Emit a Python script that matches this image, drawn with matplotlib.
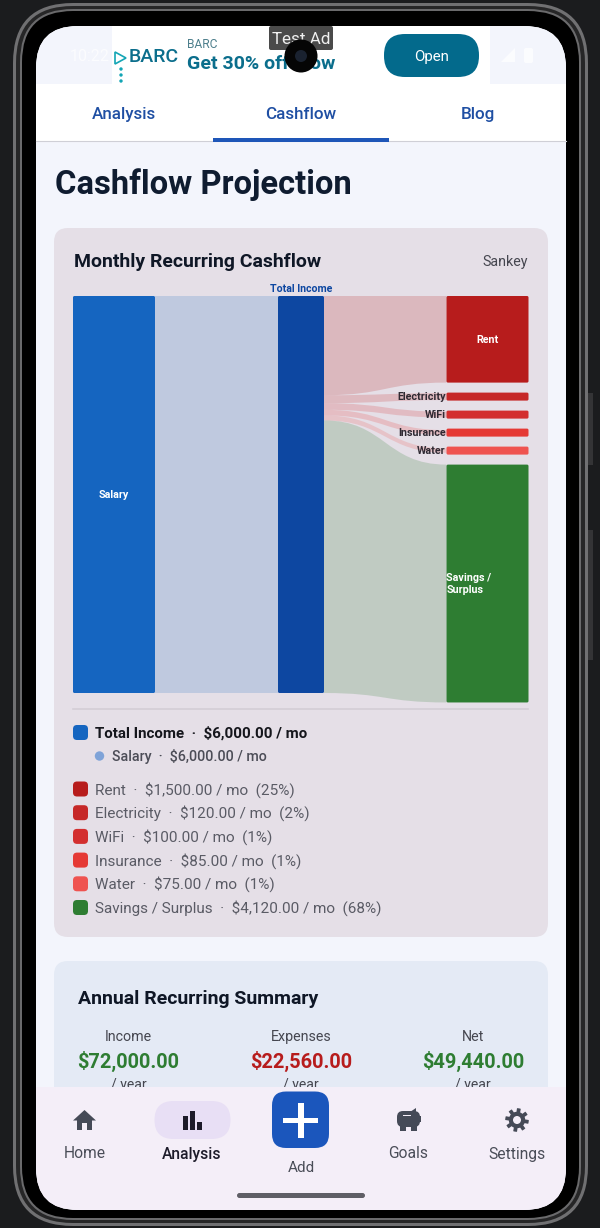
import numpy as np
import matplotlib
matplotlib.use("Agg")
import matplotlib.pyplot as plt
from matplotlib.patches import FancyBboxPatch, PathPatch, Circle, Polygon, Rectangle
from matplotlib.path import Path

plt.rcParams['font.family'] = ['Roboto', 'DejaVu Sans']

# chart values
source_name = "Salary"
total_name = "Total Income"
total_income = 6000.0
target_names = ["Rent", "Electricity", "WiFi", "Insurance", "Water", "Savings / Surplus"]
target_values = [1500.0, 120.0, 100.0, 85.0, 75.0, 4120.0]
target_pcts = [25, 2, 1, 1, 1, 68]
target_colors = ["#B71C1C", "#C62828", "#D32F2F", "#E53935", "#EF5350", "#2E7D32"]
source_color = "#1565C0"
total_color = "#0D47A1"

summary_labels = ["Income", "Expenses", "Net"]
summary_values = [72000.0, 22560.0, 49440.0]
summary_colors = ["#2E7D32", "#B71C1C", "#2E7D32"]

tab_names = ["Analysis", "Cashflow", "Blog"]
nav_names = ["Home", "Analysis", "Goals", "Settings"]

fig = plt.figure(figsize=(6, 12.28), dpi=100, facecolor="#1B1C1E")
ax = fig.add_axes([0, 0, 1, 1])
ax.set_xlim(0, 600)
ax.set_ylim(1228, 0)
ax.axis("off")


def rrect(x0, y0, x1, y1, r, color, z=1, clip=None, **kw):
    p = FancyBboxPatch((x0, y0), x1 - x0, y1 - y0, boxstyle=f"round,pad=0,rounding_size={r}",
                       fc=color, ec="none", lw=0, zorder=z, **kw)
    ax.add_patch(p)
    if clip is not None:
        p.set_clip_path(clip)
    return p


def txt(x, y, s, px, color, weight="normal", ha="left", z=10, **kw):
    return ax.text(x, y - 1, s, fontsize=px * 0.72, color=color, fontweight=weight, ha=ha,
                   va="center_baseline", zorder=z, **kw)


# phone body
rrect(13, 3, 588, 1226, 60, "#707072", z=1)
rrect(16, 6, 585, 1223, 57, "#262627", z=1.1)
rrect(20, 9, 581, 1220, 53, "#6A6A6C", z=1.2)
rrect(22, 11, 579, 1218, 51, "#000000", z=1.3)
ax.add_patch(Rectangle((588, 393), 5, 72, fc="#343436", zorder=0.9))
ax.add_patch(Rectangle((588, 530), 5, 130, fc="#343436", zorder=0.9))
screen = rrect(36, 26, 566, 1210, 42, "#F3F5FC", z=2)

# status bar and ad
status = Rectangle((36, 26), 530, 58, fc="#F3F5FC", zorder=2.1)
ax.add_patch(status)
status.set_clip_path(screen)
ax.add_patch(Rectangle((112, 26), 378, 58, fc="#FFFFFF", zorder=2.2))
txt(70, 56, "10:22", 16, "#FFFFFF", alpha=0.7, z=3)
ax.add_patch(Polygon([[115, 52], [115, 64], [126, 58]], closed=True, fc="none", ec="#13A5B5", lw=1.2, zorder=3))
txt(129, 56, "BARC", 19.5, "#0B6E8C", weight="medium", z=3)
for yy in [69, 75, 81]:
    ax.add_patch(Circle((121, yy), 1.7, fc="#13A5B5", zorder=3))
txt(187, 44, "BARC", 12, "#4D7F8C", z=3)
txt(187, 63, "Get 30% off Flow", 19.5, "#0B6E8C", weight="bold", z=3)
rrect(384, 34, 479, 77, 21, "#036A8C", z=3)
txt(431.5, 56, "Open", 15, "#FFFFFF", ha="center", z=4)
rrect(269, 26, 333, 50, 2, "#4A4A4A", z=4)
txt(301, 39, "Test Ad", 17, "#F0F0F0", ha="center", z=5)
ax.add_patch(Circle((301, 56), 16.5, fc="#050505", zorder=6))
ax.add_patch(Circle((301, 56), 6, fc="#1A2230", zorder=7))
ax.add_patch(Polygon([[501, 62], [515, 62], [515, 48]], closed=True, fc="#FFFFFF", alpha=0.75, zorder=3))
rrect(524, 48, 533, 63, 2, "#FFFFFF", z=3, alpha=0.75)

# tabs
ax.add_patch(Rectangle((36, 84), 530, 57, fc="#FFFFFF", zorder=2.2))
ax.plot([36, 566], [141, 141], color="#CFCFD6", lw=0.8, zorder=2.3)
for name, cx in zip(tab_names, [124, 301, 478]):
    txt(cx, 114, name, 17, "#1F4FA3", weight="medium", ha="center", z=3)
ax.add_patch(Rectangle((213, 138), 176, 3.5, fc="#1E56B8", zorder=3))

txt(55, 182.5, "Cashflow Projection", 32.8, "#0F1C30", weight="bold", z=3)

# sankey card
rrect(54, 228, 548, 937, 14, "#E5DFE7", z=2.4)
txt(73.5, 261, "Monthly Recurring Cashflow", 19.4, "#0F1726", weight="bold", z=3)
txt(528, 261.5, "Sankey", 14.2, "#45464F", ha="right", z=3)

chart_top = 296.0
left_scale = 397.0 / total_income
right_scale = 86.6 / target_values[0]
gap = 10.0
min_h = 8.0
x_source = (73.0, 155.0)
x_total = (278.0, 324.0)
x_target = (446.5, 528.5)


def link(x0, x1, y0a, y0b, y1a, y1b, color, alpha=0.2):
    xm = (x0 + x1) / 2
    verts = [(x0, y0a), (xm, y0a), (xm, y1a), (x1, y1a),
             (x1, y1b), (xm, y1b), (xm, y0b), (x0, y0b), (x0, y0a)]
    codes = [Path.MOVETO, Path.CURVE4, Path.CURVE4, Path.CURVE4,
             Path.LINETO, Path.CURVE4, Path.CURVE4, Path.CURVE4, Path.CLOSEPOLY]
    ax.add_patch(PathPatch(Path(verts, codes), fc=color, ec="none", alpha=alpha, zorder=3))


total_h = total_income * left_scale
link(x_source[1], x_total[0], chart_top, chart_top + total_h, chart_top, chart_top + total_h, source_color, alpha=0.18)
rrect(x_source[0], chart_top, x_source[1], chart_top + total_h, 1.5, source_color, z=4)
rrect(x_total[0], chart_top, x_total[1], chart_top + total_h, 1.5, total_color, z=4)
txt(sum(x_source) / 2, chart_top + total_h / 2 + 0.5, source_name, 10.8, "#FFFFFF", weight="bold", ha="center")
txt(sum(x_total) / 2, 288.5, total_name, 10.5, total_color, weight="bold", ha="center")

left_y = chart_top
node_y = chart_top
for name, value, color in zip(target_names, target_values, target_colors):
    node_h = max(min_h, value * right_scale)
    link_l = value * left_scale
    link_r = value * right_scale
    mid = node_y + node_h / 2
    link(x_total[1], x_target[0], left_y, left_y + link_l, mid - link_r / 2, mid + link_r / 2, color)
    rrect(x_target[0], node_y, x_target[1], node_y + node_h, 1.5, color, z=4)
    if node_h > 20:
        if " / " in name:
            txt(x_target[0], mid - 1, name.replace("/ ", "/\n"), 10.8, "#FFFFFF", weight="bold", linespacing=1.3)
        else:
            txt(sum(x_target) / 2, mid + 0.5, name, 10.8, "#FFFFFF", weight="bold", ha="center")
    else:
        txt(x_target[0] - 1, mid + 0.5, name, 10.8, "#2F2A33", weight="bold", ha="right")
    left_y += link_l
    node_y += node_h + gap

# legend
ax.plot([73, 528], [708.5, 708.5], color="#D3CED6", lw=1.2, zorder=3)
rrect(73, 725, 88, 740, 4, source_color, z=4)
txt(95, 732.5, f"{total_name}  ·  ${total_income:,.2f} / mo", 15.1, "#15161C", weight="bold")
ax.add_patch(Circle((99.5, 756), 4.7, fc="#7FA3D8", zorder=4))
txt(111.5, 756.5, f"{source_name}  ·  ${total_income:,.2f} / mo", 14.2, "#4C4D57", weight="medium")
for i, (name, value, pct, color) in enumerate(zip(target_names, target_values, target_pcts, target_colors)):
    yy = 789 + i * 23.7
    rrect(73, yy - 7.5, 88, yy + 7.5, 4, color, z=4)
    txt(95, yy, f"{name}  ·  ${value:,.2f} / mo  ({pct}%)", 15.27, "#5A5B65")

# summary card
rrect(54, 961, 548, 1110, 14, "#E4EAF5", z=2.4)
txt(78, 998, "Annual Recurring Summary", 19.5, "#0F1726", weight="bold", z=3)
for label, value, color, cx in zip(summary_labels, summary_values, summary_colors, [128.5, 301, 473]):
    txt(cx, 1036.5, label, 14.2, "#45464F", ha="center", z=3)
    txt(cx, 1060, f"${value:,.2f}", 20, color, weight="bold", ha="center", z=3)
    txt(cx, 1084, "/ year", 14, "#45464F", ha="center", z=3)

# bottom nav
nav = Rectangle((36, 1087), 530, 125, fc="#F4EEF8", zorder=20)
ax.add_patch(nav)
nav.set_clip_path(screen)
icon_c = "#454A57"
ax.add_patch(Polygon([[84.5, 1110], [73, 1120.5], [77, 1120.5], [77, 1130], [82, 1130], [82, 1123],
                      [87, 1123], [87, 1130], [92, 1130], [92, 1120.5], [96, 1120.5]],
                     closed=True, fc=icon_c, zorder=21))
rrect(154.5, 1101, 230.5, 1139, 19, "#E8DFF5", z=21)
for x0, x1, y0 in [(183, 188, 1116), (190, 195, 1111), (197, 202, 1122)]:
    ax.add_patch(Rectangle((x0, y0), x1 - x0, 1129.5 - y0, fc="#1D1B2A", zorder=22))
rrect(272, 1091.5, 329, 1148, 14, "#1B56BC", z=21)
ax.add_patch(Rectangle((283, 1117.5), 34.5, 5.5, fc="#FFFFFF", zorder=22))
ax.add_patch(Rectangle((298, 1103), 5.5, 34.5, fc="#FFFFFF", zorder=22))
rrect(397, 1111, 420, 1127, 6, icon_c, z=21)
ax.add_patch(Rectangle((400, 1123), 6, 8, fc=icon_c, zorder=21))
ax.add_patch(Rectangle((411, 1123), 6, 8, fc=icon_c, zorder=21))
ax.add_patch(Polygon([[410, 1112], [416, 1108], [416, 1114]], closed=True, fc=icon_c, zorder=21))
ax.add_patch(Rectangle((417, 1116), 4, 6, fc=icon_c, zorder=21))
ax.add_patch(Rectangle((403, 1114.5), 8, 1.8, fc="#F4EEF8", zorder=22))
ang = np.linspace(0, 2 * np.pi, 97)[:-1]
rad = 10 + 1.8 * np.sign(np.sin(8 * ang + 0.4))
ax.add_patch(Polygon(np.c_[517 + rad * np.cos(ang), 1120 + rad * np.sin(ang)], closed=True, fc=icon_c, zorder=21))
ax.add_patch(Circle((517, 1120), 4, fc="#F4EEF8", zorder=22))
for name, cx in zip(nav_names, [84.5, 192, 408.5, 517]):
    active = name == "Analysis"
    txt(cx, 1153.5, name, 15.6, "#1D1B2A" if active else "#4A4D58", weight="medium" if active else "normal", ha="center", z=22)
txt(301, 1167.5, "Add", 15.2, "#4A4D58", ha="center", z=22)
rrect(237, 1193, 365, 1198, 2.5, "#5F5E66", z=22)

fig.savefig("out.png", dpi=100, facecolor=fig.get_facecolor())
